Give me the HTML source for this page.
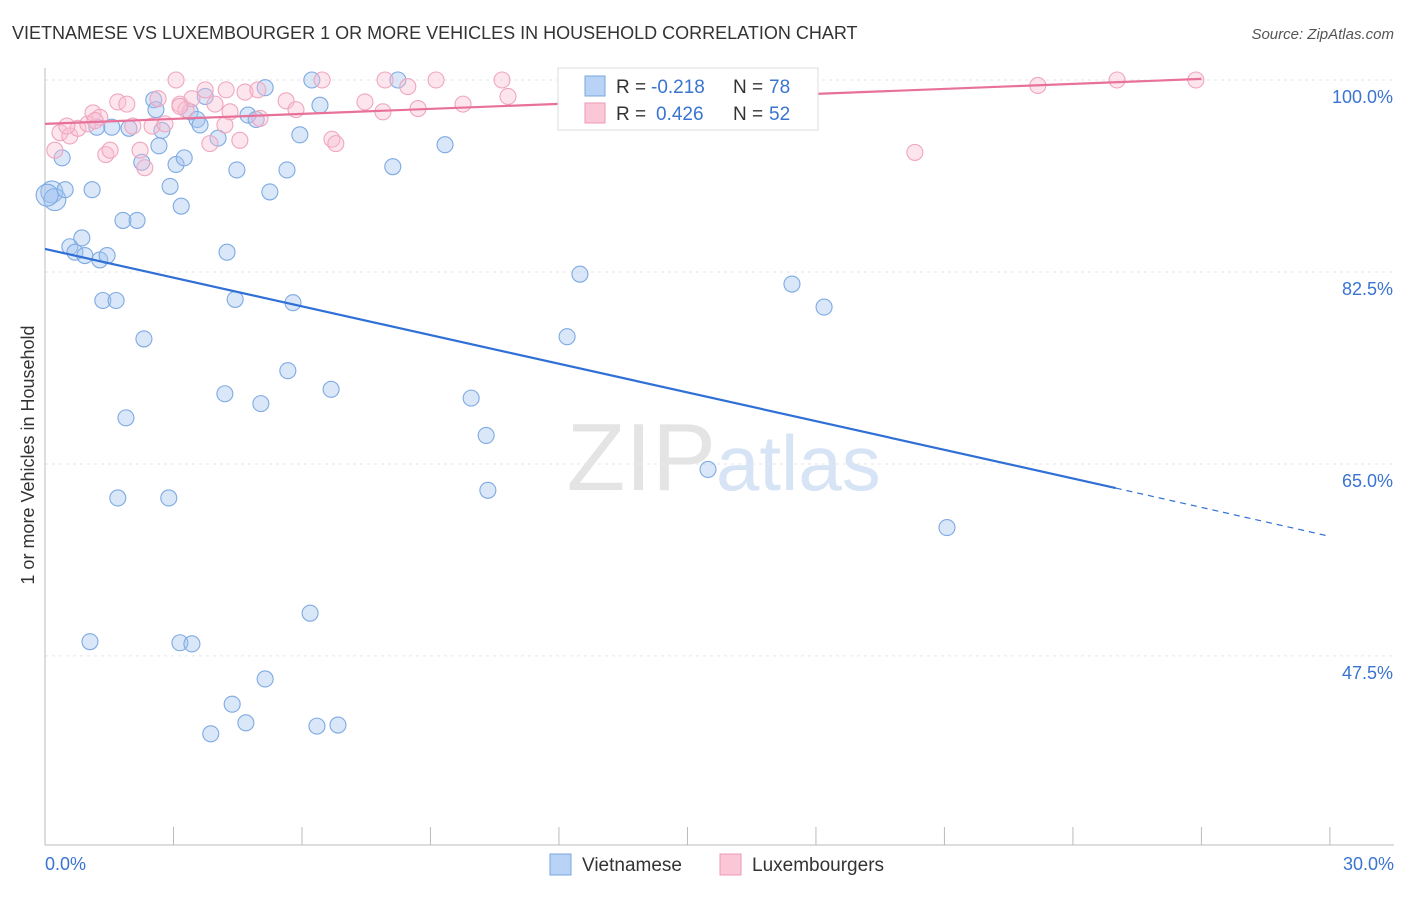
<!DOCTYPE html>
<html><head><meta charset="utf-8"><style>
body{margin:0;background:#fff;font-family:"Liberation Sans",sans-serif}
svg text{font-family:"Liberation Sans",sans-serif}
</style></head><body>
<svg id="c" width="1406" height="892" xmlns="http://www.w3.org/2000/svg">
<text x="12" y="39" font-size="18" fill="#333">VIETNAMESE VS LUXEMBOURGER 1 OR MORE VEHICLES IN HOUSEHOLD CORRELATION CHART</text>
<text x="1394" y="39" font-size="15" fill="#555" text-anchor="end" font-style="italic">Source: ZipAtlas.com</text>
<text x="716" y="490" font-size="96" fill="#e4e4e4" text-anchor="end" font-family="Liberation Serif">ZIP</text>
<text x="716" y="490" font-size="78" fill="#d6e4f5">atlas</text>
<text transform="translate(34,455) rotate(-90)" font-size="18" fill="#333" text-anchor="middle">1 or more Vehicles in Household</text>
<g id="grid"></g><g id="marks"></g>
<g>
<rect x="558" y="68" width="260" height="62" fill="#fff" stroke="#ddd"/>
<rect x="585" y="76" width="20" height="20" fill="#b8d3f5" stroke="#7aa7e0"/>
<rect x="585" y="103" width="20" height="20" fill="#fbc6d6" stroke="#eb9ab5"/>
<text x="616" y="93" font-size="19" fill="#333">R =</text>
<text x="651" y="93" font-size="19" fill="#3a74d0">-0.218</text>
<text x="733" y="93" font-size="19" fill="#333">N =</text>
<text x="769" y="93" font-size="19" fill="#3a74d0">78</text>
<text x="616" y="120" font-size="19" fill="#333">R =</text>
<text x="656" y="120" font-size="19" fill="#3a74d0">0.426</text>
<text x="733" y="120" font-size="19" fill="#333">N =</text>
<text x="769" y="120" font-size="19" fill="#3a74d0">52</text>
</g>
<g>
<rect x="550" y="854" width="21" height="21" fill="#b8d3f5" stroke="#7aa7e0"/>
<text x="582" y="871" font-size="19" fill="#333">Vietnamese</text>
<rect x="720" y="854" width="21" height="21" fill="#fbc6d6" stroke="#eb9ab5"/>
<text x="752" y="871" font-size="19" fill="#333">Luxembourgers</text>
</g>
</svg>
<script>
const xTicks=[0,3,6,9,12,15,18,21,24,27,30];
const yTicks=[100,82.5,65,47.5];
const yTickLabels=["100.0%","82.5%","65.0%","47.5%"];
const blueX=[0.16,0.23,0.05,0.47,0.4,1.21,1.56,1.96,2.54,2.59,2.73,2.66,2.26,2.92,3.06,3.25,3.18,3.39,3.55,3.62,3.74,4.04,4.48,4.74,4.93,5.14,5.25,5.65,5.95,6.23,6.42,8.24,8.12,9.34,0.58,0.7,0.86,0.93,1.28,1.45,1.1,1.82,2.15,4.25,1.35,1.66,4.44,5.79,2.31,12.49,12.19,17.44,18.19,5.67,4.2,6.68,5.04,9.95,1.89,10.3,10.34,15.48,1.7,2.89,21.06,6.19,1.05,3.15,3.43,5.14,4.37,4.69,3.87,6.35,6.84];
const blueY=[89.8,89.1,89.5,90.0,92.9,95.7,95.7,95.6,98.2,97.3,95.4,94.0,92.5,90.3,92.3,92.9,88.5,97.1,96.4,95.9,98.5,94.7,91.8,96.8,96.4,99.3,89.8,91.8,95.0,100,97.7,100,92.1,94.1,84.8,84.3,85.6,84.0,83.6,84.0,90.0,87.2,87.2,84.3,79.9,79.9,80.0,79.7,76.4,82.3,76.6,81.4,79.3,73.5,71.4,71.8,70.5,71.0,69.2,67.6,62.6,64.5,61.9,61.9,59.2,51.4,48.8,48.7,48.6,45.4,43.1,41.4,40.4,41.1,41.2];
const pinkX=[0.23,0.35,0.58,0.77,1.0,1.12,1.28,1.42,1.52,1.7,1.91,2.05,2.22,2.33,2.5,2.64,2.8,3.06,3.15,3.29,3.43,3.74,3.85,3.97,4.2,4.32,4.55,4.67,4.97,5.02,5.63,5.86,6.47,6.7,6.79,7.47,7.89,7.94,8.47,8.71,9.13,9.76,10.67,10.81,20.31,23.18,25.03,26.87,4.23,3.15,0.51,1.17];
const pinkY=[93.6,95.2,94.9,95.6,96.0,97.0,96.6,93.2,93.6,98.0,97.8,95.8,93.6,92.0,95.8,98.3,96.0,100,97.8,97.3,98.3,99.1,94.2,97.8,95.9,97.1,94.5,98.9,99.1,96.5,98.1,97.3,100,94.6,94.2,98.0,97.1,100,99.4,97.4,100,97.8,100,98.5,93.4,99.5,100,100,99.1,97.6,95.8,96.3];
const X=v=>45+v*42.83, Y=v=>80+(100-v)*10.97;
const ns="http://www.w3.org/2000/svg";
function mk(t,a,p){const e=document.createElementNS(ns,t);for(const k in a)e.setAttribute(k,a[k]);p.appendChild(e);return e;}
const g=document.getElementById('grid'), m=document.getElementById('marks');
yTicks.forEach((v,i)=>{
 const l=mk('line',{x1:45,x2:1394,y1:Y(v),y2:Y(v),stroke:'#e6e6e6','stroke-dasharray':'3,4'},g);
 
 
 const t=mk('text',{x:1393,y:Y(v)+23,'font-size':18,fill:'#3a74d0','text-anchor':'end'},g);t.textContent=yTickLabels[i];
 
 
});
const ax=mk('line',{x1:45,x2:1394,y1:845,y2:845,stroke:'#bbb'},g);


const ay=mk('line',{x1:45,x2:45,y1:68,y2:845,stroke:'#bbb'},g);


xTicks.forEach(v=>{const l=mk('line',{x1:X(v),x2:X(v),y1:827,y2:845,stroke:'#bbb'},g);
 
 });
[[0,"0.0%","start",45],[30,"30.0%","end",1394]].forEach(a=>{const t=mk('text',{x:a[3],y:870,'font-size':18,fill:'#3a74d0','text-anchor':a[2]},g);t.textContent=a[1];
 
 });
blueX.forEach((v,i)=>{const c=mk('circle',{cx:X(v),cy:Y(blueY[i]),r:i<3?11:8,fill:'rgba(160,195,240,0.4)',stroke:'#7eaae2','stroke-width':1.1},m);
 
 });
pinkX.forEach((v,i)=>{const c=mk('circle',{cx:X(v),cy:Y(pinkY[i]),r:8,fill:'rgba(250,190,210,0.4)',stroke:'#efa6bf','stroke-width':1.1},m);
 
 });
const b1=mk('line',{x1:X(0),y1:Y(84.6),x2:X(25),y2:Y(62.8),stroke:'#2f6fd6','stroke-width':2.2},m);


const b2=mk('line',{x1:X(25),y1:Y(62.8),x2:X(30),y2:Y(58.4),stroke:'#2f6fd6','stroke-width':1.2,'stroke-dasharray':'6,5'},m);


const p1=mk('line',{x1:X(0),y1:Y(96),x2:X(27),y2:Y(100.1),stroke:'#e8719a','stroke-width':2.2},m);


</script>
</body></html>
